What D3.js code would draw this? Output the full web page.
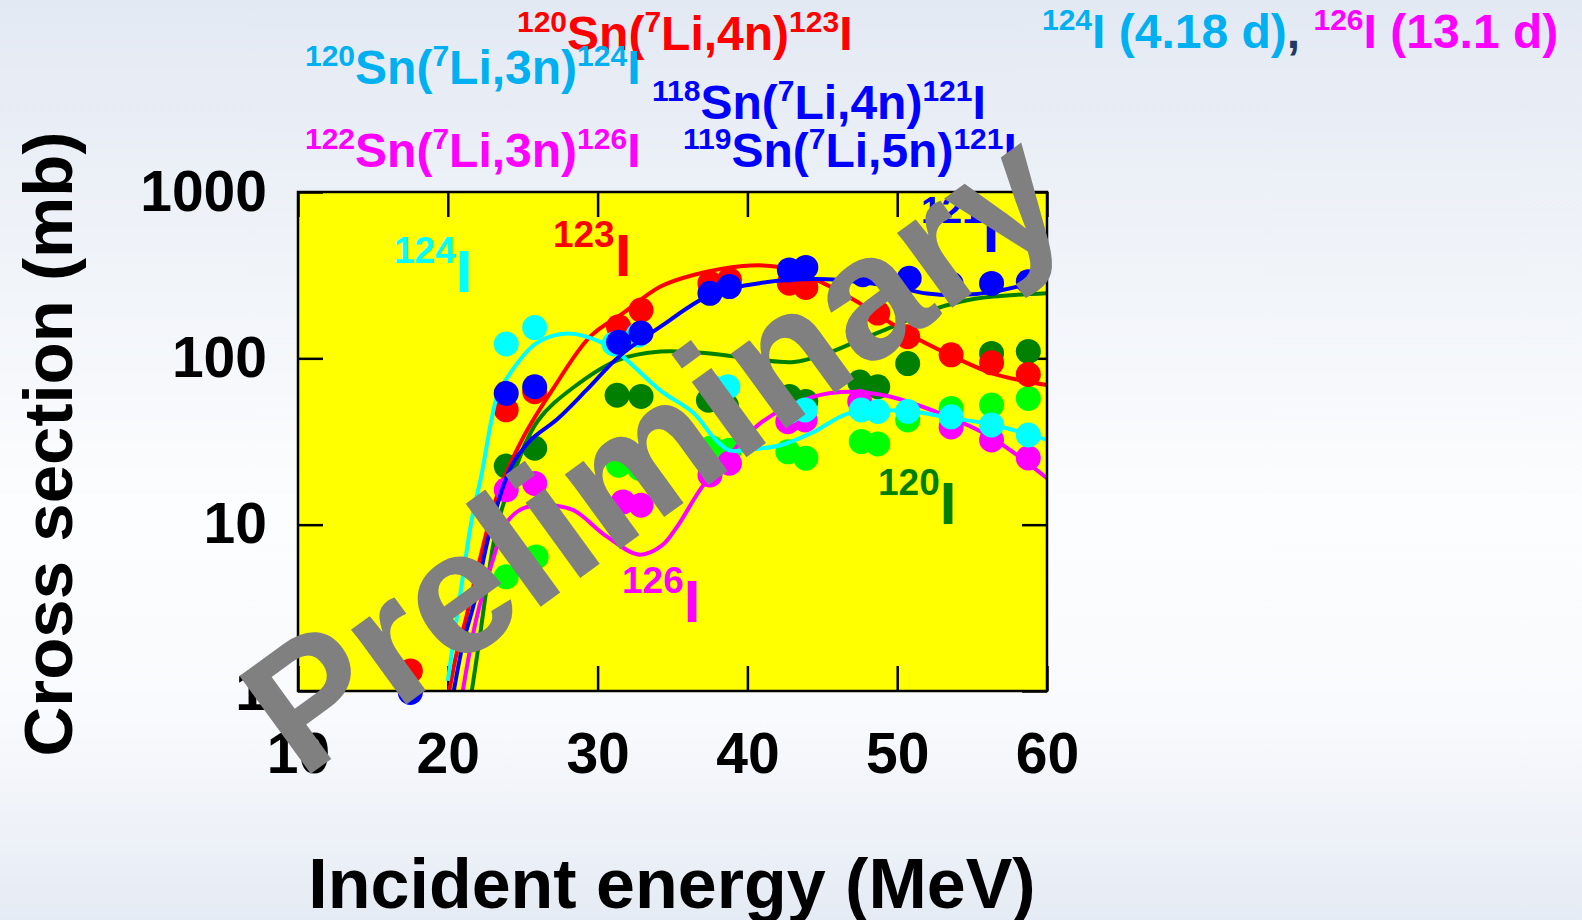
<!DOCTYPE html>
<html>
<head>
<meta charset="utf-8">
<script src="https://cdn.jsdelivr.net/npm/d3@7"></script>
<style>
  html, body { margin: 0; padding: 0; }
  body { width: 1582px; height: 920px; overflow: hidden; }
  text { font-family: "Liberation Sans", Arial, sans-serif; font-weight: bold; }
</style>
</head>
<body>
<script>
// energies (MeV) and cross sections (mb)
var red123 = [[17.5,1.32],[23.9,49],[25.8,63],[31.4,155],[32.9,195],[37.5,283],[38.8,296],[42.8,283],[43.9,267],[48.7,187],[50.7,135],[53.6,105],[56.3,94],[58.75,80]];
var blue121 = [[17.5,0.98],[23.9,61.6],[25.8,67.5],[31.4,125],[32.9,142],[37.5,246],[38.8,270],[42.8,340],[43.9,352],[47.7,318],[50.8,303],[53.6,280],[56.3,282],[58.75,289]];
var dgreen120 = [[23.9,22.5],[25.8,28.8],[31.3,60],[32.9,59],[37.4,56],[38.6,52],[42.8,59],[43.9,55],[47.5,72],[48.7,67.5],[50.7,93],[56.3,107],[58.75,110]];
var lgreen = [[23.9,4.86],[25.9,6.4],[31.4,22.8],[32.8,21.8],[37.6,29],[38.8,28],[42.7,27.4],[43.9,25.1],[47.6,31.6],[48.7,30.6],[50.7,42.6],[53.6,50],[56.3,52.4],[58.75,57.4]];
var cyan124 = [[23.9,122],[25.8,153],[31.1,122],[32.7,138],[37.6,67.5],[38.7,67.5],[42.8,47.9],[43.85,48.9],[47.6,48.9],[48.7,47.9],[50.7,47.9],[53.6,44.5],[56.3,39.8],[58.75,34.6]];
var mag126 = [[23.9,16.2],[25.8,17.7],[31.7,13.7],[32.9,13.1],[37.5,19.9],[38.8,23.4],[42.7,41.6],[43.85,42.6],[47.5,55],[53.6,38.7],[56.3,32.3],[58.75,25.2]];

// fitted curves
var redFit = [[20.1,1.0],[20.6,1.7],[21.2,2.7],[22.0,5.5],[23.3,15],[25.0,33],[27.0,65],[29.5,135],[31.7,187],[34.2,270],[36.4,317],[39.7,359],[42.0,355],[44.6,296],[47.5,214],[50.7,141],[53.5,105],[56.4,81],[60,69]];
var blueFit = [[20.4,1.0],[21.0,1.9],[21.8,3.5],[22.8,9],[24.2,22],[25.5,32],[27.3,43],[29.3,65],[31.4,102],[34.2,155],[37.5,240],[40.8,283],[45.3,299],[49.7,270],[52,245],[54.2,240],[56.4,251],[60,300]];
var greenFit = [[21.6,1.0],[22.1,2.0],[22.6,4.2],[23.2,9],[24.2,18],[26.0,42],[28.4,67],[31.4,98],[34.2,110],[37.5,107],[40.8,98],[43.1,95],[45.3,107],[47.5,129],[49.7,155],[52,191],[54.2,219],[56.4,235],[60,246]];
var cyanFit = [[20.0,1.15],[20.9,4.2],[21.6,10.7],[22.3,21],[22.9,42],[23.3,59],[24.15,81],[25.9,123],[28.0,141],[30.4,123],[31.7,102],[34.2,64],[36.4,47],[37.8,33],[38.8,28],[40.5,28.5],[42.2,30],[44.4,36],[46.85,47],[50.7,48],[53.5,44],[56.3,40],[58.75,35],[60,32.3]];
var magFit = [[21.0,1.0],[21.9,2.7],[23.0,6.1],[23.9,10.2],[25.0,12.5],[26.8,13.1],[28.4,12.2],[30.6,8.5],[32.8,6.6],[34.3,7.5],[35.3,9.7],[37.0,17],[38.6,25],[41.0,41.6],[44.4,58.8],[46.9,63],[49.5,59],[52.9,46.5],[56.2,33.8],[60,19]];

var xTicks = [10, 20, 30, 40, 50, 60];
var yTicks = [1, 10, 100, 1000];

// isotope tags inside the plot: mass, [E, sigma] of the "I" baseline start
var isoTags = [
  {mass: "124", at: [16.41, 251], color: "#00ffff"},
  {mass: "123", at: [27.02, 312], color: "#ff0000"},
  {mass: "121", at: [51.59, 436], color: "#0000ff"},
  {mass: "120", at: [48.72, 10.1], color: "#008000"},
  {mass: "126", at: [31.63, 2.6], color: "#ff00ff"}
];

var width = 1582, height = 920;
var pLeft = 298, pRight = 1047, pTop = 192, pBottom = 691;

var x = d3.scaleLinear().domain([10, 60]).range([pLeft, pRight]);
var y = d3.scaleLog().domain([1, 1000]).range([pBottom, pTop]);

var svg = d3.select("body").append("svg")
  .attr("width", width)
  .attr("height", height);

var defs = svg.append("defs");
var grad = defs.append("linearGradient")
  .attr("id", "bg").attr("x1", 0).attr("y1", 0).attr("x2", 0).attr("y2", 1);
grad.append("stop").attr("offset", "0%").attr("stop-color", "#e3e9f3");
grad.append("stop").attr("offset", "55%").attr("stop-color", "#fcfdfe");
grad.append("stop").attr("offset", "78%").attr("stop-color", "#f9fafd");
grad.append("stop").attr("offset", "100%").attr("stop-color", "#e5ebf4");

defs.append("clipPath").attr("id", "plotclip")
  .append("rect")
  .attr("x", pLeft).attr("y", pTop)
  .attr("width", pRight - pLeft).attr("height", pBottom - pTop);

svg.append("rect")
  .attr("width", width).attr("height", height)
  .attr("fill", "url(#bg)");

svg.append("rect")
  .attr("x", pLeft).attr("y", pTop)
  .attr("width", pRight - pLeft).attr("height", pBottom - pTop)
  .attr("fill", "#ffff00");

// axes
var tickLen = 25;
var gx = svg.append("g").attr("transform", "translate(0," + pBottom + ")")
  .call(d3.axisBottom(x).tickValues(xTicks).tickSizeInner(-tickLen).tickSizeOuter(0).tickPadding(42));
var gxt = svg.append("g").attr("transform", "translate(0," + pTop + ")")
  .call(d3.axisTop(x).tickValues(xTicks).tickSizeInner(-tickLen).tickSizeOuter(0).tickFormat(""));
var gy = svg.append("g").attr("transform", "translate(" + pLeft + ",0)")
  .call(d3.axisLeft(y).tickValues(yTicks).tickSizeInner(-tickLen).tickSizeOuter(0).tickPadding(31).tickFormat(d3.format("d")));
var gyr = svg.append("g").attr("transform", "translate(" + pRight + ",0)")
  .call(d3.axisRight(y).tickValues(yTicks).tickSizeInner(-tickLen).tickSizeOuter(0).tickFormat(""));

[gx, gxt, gy, gyr].forEach(function(g){
  g.select(".domain").remove();
  g.selectAll(".tick line").attr("stroke", "#000").attr("stroke-width", 2.5);
  g.selectAll(".tick text")
    .attr("fill", "#000")
    .style("font-size", "57px")
    .style("font-family", "'Liberation Sans', Arial, sans-serif")
    .style("font-weight", "bold");
});

// data
var line = d3.line()
  .x(function(d){ return x(d[0]); })
  .y(function(d){ return y(d[1]); })
  .curve(d3.curveCatmullRom.alpha(0.5));

function dots(data, color){
  svg.append("g").selectAll("circle")
    .data(data).enter().append("circle")
    .attr("cx", function(d){ return x(d[0]); })
    .attr("cy", function(d){ return y(d[1]); })
    .attr("r", 12.5)
    .attr("fill", color);
}
function curve(data, color){
  svg.append("path")
    .datum(data)
    .attr("clip-path", "url(#plotclip)")
    .attr("d", line)
    .attr("fill", "none")
    .attr("stroke", color)
    .attr("stroke-width", 4);
}

dots(lgreen, "#00ff00");
dots(dgreen120, "#008000");
curve(greenFit, "#008000");
dots(red123, "#ff0000");
curve(redFit, "#ff0000");
dots(mag126, "#ff00ff");
curve(magFit, "#ff00ff");
dots(cyan124, "#00ffff");
curve(cyanFit, "#00ffff");
dots(blue121, "#0000ff");
curve(blueFit, "#0000ff");

// frame
svg.append("rect")
  .attr("x", pLeft).attr("y", pTop)
  .attr("width", pRight - pLeft).attr("height", pBottom - pTop)
  .attr("fill", "none").attr("stroke", "#000").attr("stroke-width", 2.5);

// isotope tags
isoTags.forEach(function(t){
  var tx = svg.append("text")
    .attr("x", x(t.at[0])).attr("y", y(t.at[1]))
    .attr("fill", t.color);
  tx.append("tspan").attr("dy", -29).style("font-size", "37px").text(t.mass);
  tx.append("tspan").attr("dy", 29).style("font-size", "60px").text("I");
});

// reaction titles
function reaction(px, py, color, parts){
  var tx = svg.append("text").attr("x", px).attr("y", py).attr("fill", color);
  var up = false;
  parts.forEach(function(p){
    var sup = p[1] === "sup";
    var dy = 0;
    if (sup && !up) { dy = -18; up = true; }
    else if (!sup && up) { dy = 18; up = false; }
    var ts = tx.append("tspan").attr("dy", dy).style("font-size", sup ? "30px" : "48px").text(p[0]);
    if (p[2]) ts.attr("fill", p[2]);
  });
}
reaction(517, 50, "#ff0000", [["120","sup"],["Sn(",""],["7","sup"],["Li,4n)",""],["123","sup"],["I",""]]);
reaction(305, 84, "#00b0f0", [["120","sup"],["Sn(",""],["7","sup"],["Li,3n)",""],["124","sup"],["I",""]]);
reaction(652, 119, "#0000ff", [["118","sup"],["Sn(",""],["7","sup"],["Li,4n)",""],["121","sup"],["I",""]]);
reaction(305, 167, "#ff00ff", [["122","sup"],["Sn(",""],["7","sup"],["Li,3n)",""],["126","sup"],["I",""]]);
reaction(683, 167, "#0000ff", [["119","sup"],["Sn(",""],["7","sup"],["Li,5n)",""],["121","sup"],["I",""]]);
reaction(1042, 48, "#00b0f0", [["124","sup"],["I (4.18 d)",""],[",","","#1f3864"],[" ","",""],["126","sup","#ff00ff"],["I (13.1 d)","","#ff00ff"]]);

// axis titles
svg.append("text")
  .attr("x", 672).attr("y", 908)
  .attr("text-anchor", "middle")
  .style("font-size", "70px")
  .attr("fill", "#000")
  .text("Incident energy (MeV)");

svg.append("text")
  .attr("transform", "translate(72,444) rotate(-90)")
  .attr("text-anchor", "middle")
  .style("font-size", "69px")
  .attr("fill", "#000")
  .text("Cross section (mb)");

// watermark
svg.append("text")
  .attr("transform", "translate(689,499) rotate(-36)")
  .attr("text-anchor", "middle")
  .style("font-size", "176px")
  .attr("fill", "#808080")
  .text("Preliminary");
</script>
</body>
</html>
